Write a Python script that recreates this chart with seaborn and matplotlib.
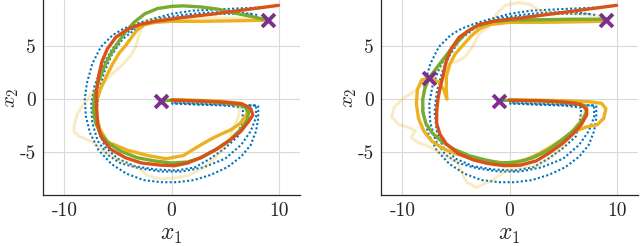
import numpy as np
import pandas as pd
import matplotlib
matplotlib.use("Agg")
import matplotlib.pyplot as plt
import seaborn as sns

# ---------------- data ----------------
demo_outer = [(8.3, 8.6), (6.0, 8.5), (4.0, 8.4), (2.0, 8.3), (0.0, 8.0), (-1.5, 7.6), (-3.2, 7.1),
              (-4.5, 6.6), (-5.5, 6.0), (-6.6, 4.9), (-7.4, 3.3), (-7.9, 1.5), (-8.1, 0.0), (-8.0, -1.6),
              (-7.6, -3.2), (-6.8, -4.8), (-5.6, -6.1), (-4.2, -7.0), (-2.6, -7.6), (-1.0, -7.8),
              (0.5, -7.8), (2.1, -7.6), (3.7, -7.1), (5.2, -6.4), (6.5, -5.4), (7.4, -4.3), (7.9, -3.0),
              (8.1, -1.8), (8.1, -0.6), (6.0, -0.6), (3.0, -0.5), (0.0, -0.4)]
demo_middle = [(8.0, 7.9), (5.8, 8.2), (3.0, 8.1), (1.1, 7.9), (-1.0, 7.6), (-3.0, 7.0), (-4.5, 6.0),
               (-5.6, 4.6), (-6.5, 3.0), (-7.2, 1.2), (-7.5, -0.5), (-7.4, -2.2), (-6.9, -3.9),
               (-6.0, -5.2), (-4.8, -6.0), (-3.0, -6.5), (-1.0, -6.8), (1.0, -6.8), (3.0, -6.4),
               (5.0, -5.6), (6.5, -4.3), (7.4, -3.0), (7.9, -1.7), (7.9, -0.6), (5.0, -0.5), (2.0, -0.4),
               (0.0, -0.3)]
demo_inner = [(7.5, 8.0), (4.5, 8.0), (2.0, 7.8), (0.0, 7.6), (-1.5, 7.3), (-3.2, 6.7), (-4.6, 5.6),
              (-5.6, 4.1), (-6.3, 2.5), (-6.8, 0.6), (-7.0, -1.2), (-6.8, -3.0), (-6.2, -4.5),
              (-5.0, -5.6), (-3.4, -6.3), (-1.5, -6.6), (0.5, -6.7), (2.2, -6.4), (3.6, -5.6),
              (5.0, -4.6), (6.2, -3.5), (6.6, -2.0), (6.7, -0.8), (5.0, -0.6), (2.0, -0.5), (0.0, -0.4)]

# left panel
faint_left = [(8.5, 7.6), (5.0, 7.6), (2.0, 7.6), (-1.0, 7.6), (-2.3, 7.4), (-2.8, 6.7), (-3.1, 5.8),
              (-3.3, 5.0), (-3.8, 4.1), (-4.6, 3.2), (-5.5, 2.4), (-6.6, 1.3), (-7.6, 0.3), (-8.3, -0.6),
              (-8.8, -1.4), (-9.1, -2.5), (-9.1, -3.1), (-8.6, -3.5), (-7.4, -4.0), (-6.2, -5.0),
              (-4.6, -5.9), (-3.0, -6.5), (-2.2, -7.2), (-1.0, -7.5), (0.3, -7.4), (1.5, -7.2),
              (2.9, -6.5), (4.0, -5.6), (5.0, -4.4), (5.7, -3.0), (6.2, -1.8), (6.4, -0.9), (5.8, -0.5),
              (3.0, -0.3), (0.0, -0.2)]
orange_left = [(8.6, 7.4), (6.0, 7.35), (3.0, 7.3), (0.0, 7.3), (-1.5, 7.2), (-2.5, 7.0), (-3.2, 6.5),
               (-3.8, 5.7), (-4.3, 5.0), (-4.9, 4.3), (-5.5, 3.3), (-6.1, 2.1), (-6.6, 1.0), (-7.0, -0.2),
               (-7.0, -1.5), (-6.7, -2.8), (-6.0, -4.0), (-4.1, -4.8), (-2.2, -5.3), (-0.5, -5.6),
               (1.1, -5.3), (2.4, -4.5), (3.6, -3.8), (4.6, -3.3), (5.5, -2.9), (6.4, -2.3), (7.0, -1.5),
               (7.1, -0.8), (6.5, -0.4), (4.5, -0.2), (2.0, -0.1), (0.0, -0.05)]
green_left = [(9.0, 7.4), (7.5, 7.75), (6.0, 8.05), (4.3, 8.45), (2.7, 8.65), (1.1, 8.75), (0.0, 8.7),
              (-1.3, 8.5), (-2.5, 8.0), (-3.5, 7.2), (-4.3, 6.3), (-5.0, 5.3), (-5.7, 4.2), (-6.3, 3.0),
              (-6.8, 1.7), (-7.2, 0.3), (-7.3, -1.0), (-7.1, -2.2), (-6.6, -3.3), (-5.8, -4.2),
              (-4.7, -4.9), (-3.2, -5.5), (-1.6, -5.8), (0.0, -6.0), (1.5, -5.9), (2.8, -5.5),
              (4.2, -4.7), (5.5, -3.8), (6.5, -2.8), (7.1, -1.9), (7.2, -1.2), (6.8, -0.7), (5.8, -0.4),
              (4.0, -0.25), (2.0, -0.15), (0.0, -0.1), (-1.0, -0.15)]
red_left = [(10.0, 8.8), (7.0, 8.4), (4.0, 8.0), (1.0, 7.65), (0.0, 7.5), (-1.5, 7.3), (-3.0, 7.0),
            (-4.2, 6.5), (-5.2, 5.8), (-6.0, 4.7), (-6.5, 3.5), (-6.8, 2.2), (-7.0, 0.8), (-7.0, -0.8),
            (-6.9, -2.3), (-6.6, -3.5), (-5.7, -4.7), (-4.3, -5.5), (-2.8, -6.0), (-1.0, -6.2),
            (0.3, -6.25), (1.5, -6.0), (2.7, -5.5), (4.2, -4.7), (5.4, -3.9), (6.5, -3.0), (7.2, -2.1),
            (7.6, -1.5), (7.4, -0.9), (6.6, -0.45), (5.0, -0.3), (3.0, -0.2), (0.0, -0.1)]
marks_left = [(9.0, 7.4), (-1.0, -0.2)]

# right panel
faint_right = [(8.5, 7.8), (6.0, 8.0), (4.0, 8.1), (2.8, 8.3), (1.9, 8.9), (0.8, 9.05), (-0.4, 8.8),
               (-1.2, 8.0), (-1.9, 6.8), (-2.8, 6.2), (-3.4, 5.0), (-4.2, 3.9), (-5.0, 3.5), (-5.9, 3.3),
               (-6.8, 2.6), (-7.6, 1.8), (-8.8, 0.8), (-10.0, 0.0), (-10.8, -0.8), (-11.0, -1.7),
               (-10.3, -2.4), (-9.3, -2.7), (-8.8, -3.0), (-9.2, -3.6), (-8.5, -4.1), (-7.4, -4.5),
               (-6.0, -5.3), (-4.8, -6.0), (-4.4, -7.0), (-4.0, -7.8), (-3.1, -8.3), (-1.6, -7.6),
               (-0.3, -6.7), (1.0, -6.4), (2.5, -6.3), (4.0, -5.4), (5.3, -4.1), (6.5, -2.0),
               (7.2, -0.7), (6.0, -0.4), (3.0, -0.3), (0.0, -0.2)]
orange_right = [(8.8, 7.3), (6.0, 7.25), (3.0, 7.2), (0.0, 7.2), (-1.8, 7.0), (-2.8, 6.6), (-3.6, 5.9),
                (-4.4, 5.0), (-5.1, 4.2), (-5.6, 3.2), (-5.9, 2.1), (-5.9, 1.0), (-5.85, 0.0),
                (-6.1, 0.8), (-6.6, 1.6), (-7.4, 2.0), (-8.2, 1.8), (-8.6, 0.9), (-8.7, -0.4),
                (-8.5, -1.8), (-8.0, -3.0), (-7.3, -3.9), (-6.3, -4.6), (-5.1, -5.1), (-3.4, -5.6),
                (-1.5, -5.9), (0.0, -6.0), (1.5, -5.7), (2.8, -5.1), (4.0, -4.4), (5.2, -3.6),
                (6.2, -3.0), (7.2, -2.6), (8.2, -2.4), (8.8, -1.8), (9.0, -0.9), (8.6, -0.4),
                (7.5, -0.25), (5.0, -0.15), (2.5, -0.1), (0.0, -0.1)]
green_right = [(9.0, 7.5), (6.0, 7.5), (3.0, 7.45), (0.0, 7.4), (-1.5, 7.3), (-3.0, 6.9), (-4.0, 6.3),
               (-4.8, 5.4), (-5.6, 4.5), (-6.3, 3.6), (-6.9, 2.8), (-7.5, 2.0), (-7.9, 1.0), (-8.1, 0.0),
               (-8.1, -1.2), (-7.8, -2.3), (-7.2, -3.2), (-6.3, -4.0), (-5.2, -4.7), (-3.8, -5.3),
               (-2.3, -5.7), (-0.8, -6.0), (0.8, -5.9), (2.2, -5.5), (3.6, -4.8), (4.8, -3.9),
               (5.9, -3.0), (6.8, -2.0), (7.2, -1.2), (7.0, -0.6), (6.0, -0.35), (4.0, -0.2),
               (2.0, -0.15), (0.0, -0.1), (-1.0, -0.15)]
red_right = [(10.0, 8.8), (7.0, 8.4), (4.0, 8.0), (1.0, 7.6), (0.0, 7.5), (-1.5, 7.3), (-2.8, 7.0),
             (-3.7, 6.5), (-4.7, 5.8), (-5.4, 4.8), (-5.9, 3.6), (-6.2, 2.2), (-6.5, 1.0), (-6.7, -0.1),
             (-6.8, -1.2), (-6.8, -2.3), (-6.5, -3.3), (-5.9, -4.2), (-4.8, -5.1), (-3.4, -5.7),
             (-2.0, -6.05), (-0.5, -6.25), (1.0, -6.2), (2.5, -5.8), (3.8, -5.0), (4.9, -4.2),
             (5.9, -3.3), (6.7, -2.4), (7.2, -1.5), (7.2, -0.9), (6.6, -0.5), (5.2, -0.3), (3.0, -0.15),
             (0.0, -0.1)]
marks_right = [(9.0, 7.4), (-1.0, -0.2), (-7.5, 2.0)]

x_ticks = [-10, 0, 10]
x_tick_labels = ["-10", "0", "10"]
y_ticks = [-5, 0, 5]
y_tick_labels = ["-5", "0", "5"]

# ---------------- style ----------------
sns.set_style("white")
plt.rcParams["font.family"] = ["cmr10", "DejaVu Serif"]
plt.rcParams["mathtext.fontset"] = "cm"
plt.rcParams["axes.unicode_minus"] = False
plt.rcParams["axes.formatter.use_mathtext"] = True

BLUE = "#0072BD"
ORANGE = "#EDB120"
GREEN = "#77AC30"
RED = "#D95319"
PURPLE = "#7E2F8E"
AXC = "#262626"

fig = plt.figure(figsize=(6.4, 2.46), dpi=100)
ax_l = fig.add_axes([43 / 640, 51 / 246, 257 / 640, 195 / 246])
ax_r = fig.add_axes([381 / 640, 51 / 246, 257 / 640, 195 / 246])


def draw_curve(ax, pts, color, lw, ls="-", alpha=1.0, z=2):
    df = pd.DataFrame(pts, columns=["x", "y"])
    n0 = len(ax.lines)
    sns.lineplot(data=df, x="x", y="y", sort=False, estimator=None, ax=ax, color=color,
                 linewidth=lw, linestyle=ls, alpha=alpha, zorder=z)
    return ax.lines[n0:]


def panel(ax, faint, orange, green, red, marks):
    for d in (demo_outer, demo_middle, demo_inner):
        for ln in draw_curve(ax, d, BLUE, 1.5, ls=(0, (1.0, 1.1)), z=2):
            ln.set_dash_capstyle("butt")
    draw_curve(ax, faint, ORANGE, 2.2, alpha=0.25, z=3)
    draw_curve(ax, orange, ORANGE, 2.4, z=4)
    draw_curve(ax, green, GREEN, 2.4, z=5)
    draw_curve(ax, red, RED, 2.4, z=6)
    mdf = pd.DataFrame(marks, columns=["x", "y"])
    sns.scatterplot(data=mdf, x="x", y="y", ax=ax, marker="x", s=85, color=PURPLE,
                    linewidth=2.8, zorder=7)

    ax.set_xlim(-12, 12)
    ax.set_ylim(-9, 9.3)
    ax.set_xticks(x_ticks)
    ax.set_xticklabels(x_tick_labels)
    ax.set_yticks(y_ticks)
    ax.set_yticklabels(y_tick_labels)
    ax.grid(True, color="#d9d9d9", linewidth=0.8, zorder=0)
    ax.set_axisbelow(True)
    for s in ("top", "right"):
        ax.spines[s].set_visible(False)
    for s in ("left", "bottom"):
        ax.spines[s].set_color(AXC)
        ax.spines[s].set_linewidth(0.9)
    ax.tick_params(direction="in", length=3, width=0.8, color=AXC, labelsize=14,
                   labelcolor=AXC, pad=5)
    ax.set_xlabel("$x_1$", fontsize=17, labelpad=3, color=AXC)
    ax.set_ylabel("$x_2$", fontsize=15, color=AXC)
    ax.yaxis.set_label_coords(-0.085, 0.5)


panel(ax_l, faint_left, orange_left, green_left, red_left, marks_left)
panel(ax_r, faint_right, orange_right, green_right, red_right, marks_right)

fig.savefig("out.png", dpi=100)
